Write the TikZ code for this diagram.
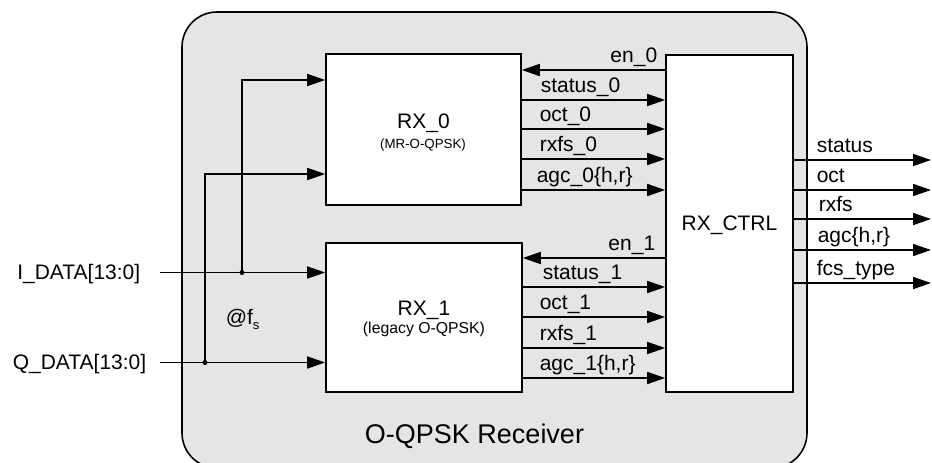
\documentclass[tikz,border=0pt]{standalone}
\usepackage{fontspec}
\setmainfont{Liberation Sans}
\usetikzlibrary{arrows.meta}
\begin{document}
\begin{tikzpicture}[x=1pt,y=-1pt,line width=1.6pt,
  blk/.style={draw,fill=white,line width=1.6pt,inner sep=0pt},
  sig/.style={-{Triangle[length=18pt,width=12pt]}},
  lbl/.style={font=\fontsize{21}{24}\selectfont,inner sep=0pt,anchor=base west},
  rlbl/.style={font=\fontsize{21}{24}\selectfont,inner sep=0pt,anchor=base east},
  big/.style={font=\fontsize{21}{24}\selectfont,inner sep=0pt,anchor=base},
  small/.style={inner sep=0pt,anchor=base},
  jdot/.style={circle,fill,inner sep=0pt,minimum size=5pt}]
\clip (0,0) rectangle (932,463);
\draw[fill=gray!20,rounded corners=35pt,line width=1.6pt] (182,12) rectangle (807,468);
% blocks
\node[blk,minimum width=195pt,minimum height=151pt] (rx0) at (423.5,129.5) {};
\node[blk,minimum width=196pt,minimum height=149pt] (rx1) at (424,317.5) {};
\node[blk,minimum width=127pt,minimum height=337pt] (ctrl) at (729.5,223.5) {};
\node[big] (rx0t) at (423.5,128) {RX\_0};
\node[small,font=\fontsize{13.3}{15}\selectfont] (rx0s) at (423,148) {(MR-O-QPSK)};
\node[big] (rx1t) at (424,315) {RX\_1};
\node[small,font=\fontsize{15.8}{18}\selectfont] (rx1s) at (424,333) {(legacy O-QPSK)};
\node[big] (ctrlt) at (729.5,230) {RX\_CTRL};
\node[font=\fontsize{27}{30}\selectfont,inner sep=0pt,anchor=base] (title) at (474.5,443) {O-QPSK Receiver};
% RX_0 <-> CTRL
\draw[sig] (ctrl.west |- 0,70) -- (rx0.east |- 0,70);
\draw[sig] (rx0.east |- 0,100) -- (ctrl.west |- 0,100);
\draw[sig] (rx0.east |- 0,129) -- (ctrl.west |- 0,129);
\draw[sig] (rx0.east |- 0,159) -- (ctrl.west |- 0,159);
\draw[sig] (rx0.east |- 0,190) -- (ctrl.west |- 0,190);
\node[rlbl] (len0) at (658,62) {en\_0};
\node[lbl] (lst0) at (540,92) {status\_0};
\node[lbl] (loc0) at (539,121) {oct\_0};
\node[lbl] (lrx0) at (539,151) {rxfs\_0};
\node[lbl] (lag0) at (536,182) {agc\_0\{h,r\}};
% RX_1 <-> CTRL
\draw[sig] (ctrl.west |- 0,258) -- (rx1.east |- 0,258);
\draw[sig] (rx1.east |- 0,287) -- (ctrl.west |- 0,287);
\draw[sig] (rx1.east |- 0,317) -- (ctrl.west |- 0,317);
\draw[sig] (rx1.east |- 0,348) -- (ctrl.west |- 0,348);
\draw[sig] (rx1.east |- 0,378) -- (ctrl.west |- 0,378);
\node[rlbl] (len1) at (656,250) {en\_1};
\node[lbl] (lst1) at (542,279) {status\_1};
\node[lbl] (loc1) at (539,309) {oct\_1};
\node[lbl] (lrx1) at (539,340) {rxfs\_1};
\node[lbl] (lag1) at (539,370) {agc\_1\{h,r\}};
% outputs
\coordinate (o1) at (931,160);
\coordinate (o2) at (931,190);
\coordinate (o3) at (931,219);
\coordinate (o4) at (931,250);
\coordinate (o5) at (931,283);
\draw[sig] (ctrl.east |- o1) -- (o1);
\draw[sig] (ctrl.east |- o2) -- (o2);
\draw[sig] (ctrl.east |- o3) -- (o3);
\draw[sig] (ctrl.east |- o4) -- (o4);
\draw[sig] (ctrl.east |- o5) -- (o5);
\node[lbl] (lost) at (816,152) {status};
\node[lbl] (looc) at (816,182) {oct};
\node[lbl] (lorx) at (818,211) {rxfs};
\node[lbl] (loag) at (817,242) {agc\{h,r\}};
\node[lbl] (lofc) at (816,275) {fcs\_type};
% inputs
\coordinate (iin) at (160,272.5);
\coordinate (qin) at (160,362.5);
\node[rlbl] (ilbl) at (141,279) {I\_DATA[13:0]};
\node[rlbl] (qlbl) at (147,369) {Q\_DATA[13:0]};
\node[jdot] (di) at (242,272.5) {};
\node[jdot] (dq) at (205,362.5) {};
\draw[sig] (iin) -- (rx1.west |- iin);
\draw[sig] (qin) -- (rx1.west |- qin);
\draw[sig] (di.center) |- (rx0.west |- 0,80);
\draw[sig] (dq.center) |- (rx0.west |- 0,174);
\node[lbl] (fs) at (225,324) {@f\raisebox{-0.25em}{\fontsize{13}{13}\selectfont s}};
\end{tikzpicture}
\end{document}
